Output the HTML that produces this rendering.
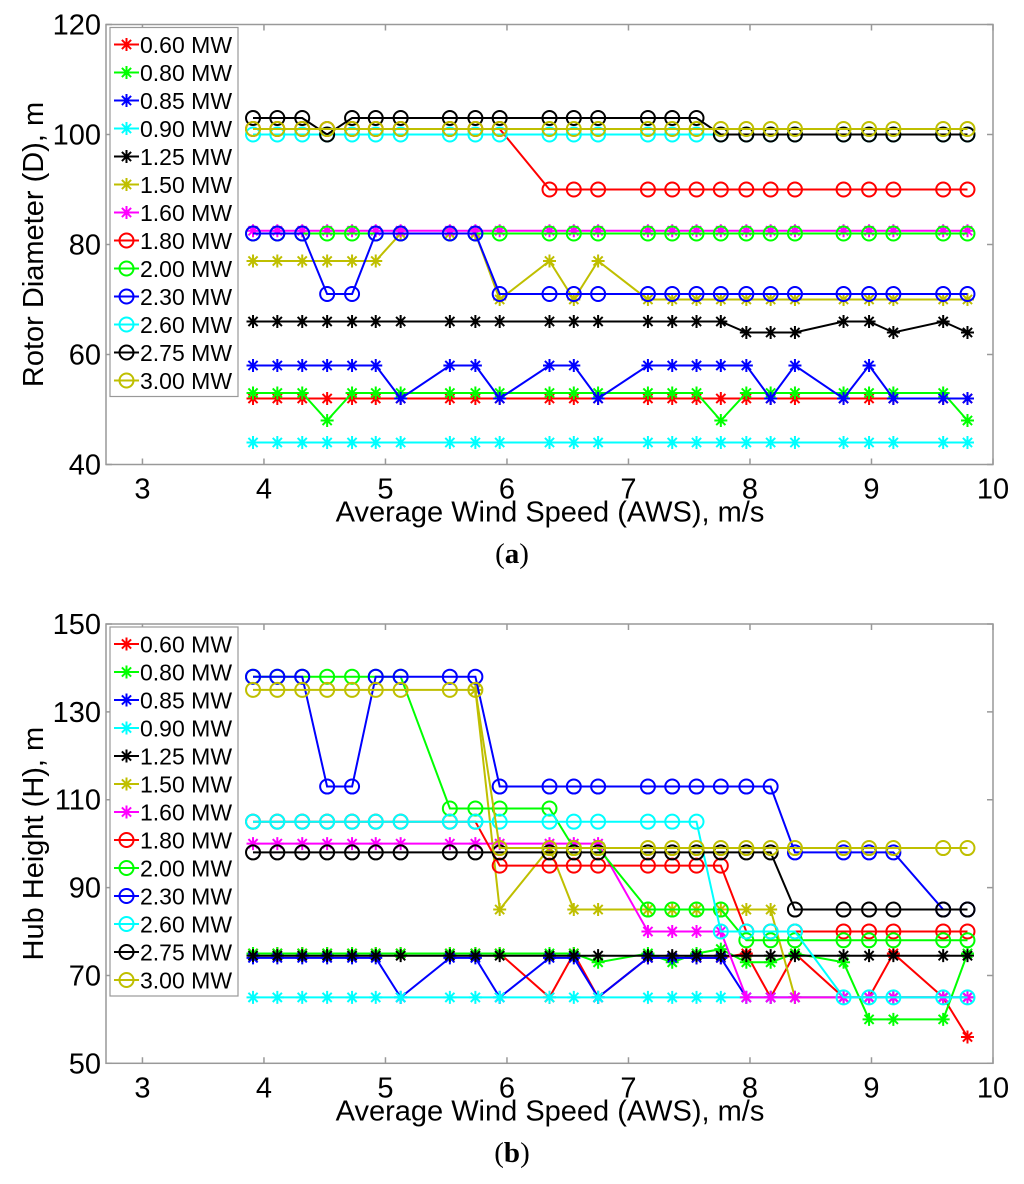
<!DOCTYPE html>
<html><head><meta charset="utf-8"><style>
html,body{margin:0;padding:0;background:#fff;}
svg{display:block;font-family:"Liberation Sans",sans-serif;}
</style></head><body>
<svg id="fig" width="1024" height="1184" viewBox="0 0 1024 1184" xmlns="http://www.w3.org/2000/svg"></svg>
<script>
const xs = [3.91,4.11,4.315,4.52,4.725,4.92,5.125,5.53,5.74,5.94,6.35,6.55,6.75,7.16,7.36,7.56,7.76,7.97,8.17,8.37,8.77,8.98,9.18,9.59,9.79];
const seriesNames = ["0.60 MW","0.80 MW","0.85 MW","0.90 MW","1.25 MW","1.50 MW","1.60 MW","1.80 MW","2.00 MW","2.30 MW","2.60 MW","2.75 MW","3.00 MW"];
const xTicks = [3,4,5,6,7,8,9,10];
const yTicksA = [40,60,80,100,120];
const yTicksB = [50,70,90,110,130,150];
// chart (a) rotor diameter
const a060 = [52,52,52,52,52,52,52,52,52,52,52,52,52,52,52,52,52,52,52,52,52,52,52,52,52];
const a080 = [53,53,53,48,53,53,53,53,53,53,53,53,53,53,53,53,48,53,53,53,53,53,53,53,48];
const a085 = [58,58,58,58,58,58,52,58,58,52,58,58,52,58,58,58,58,58,52,58,52,58,52,52,52];
const a090 = [44,44,44,44,44,44,44,44,44,44,44,44,44,44,44,44,44,44,44,44,44,44,44,44,44];
const a125 = [66,66,66,66,66,66,66,66,66,66,66,66,66,66,66,66,66,64,64,64,66,66,64,66,64];
const a150 = [77,77,77,77,77,77,82,82,82,70,77,70,77,70,70,70,70,70,70,70,70,70,70,70,70];
const a160 = [82.5,82.5,82.5,82.5,82.5,82.5,82.5,82.5,82.5,82.5,82.5,82.5,82.5,82.5,82.5,82.5,82.5,82.5,82.5,82.5,82.5,82.5,82.5,82.5,82.5];
const a180 = [101,101,101,101,101,101,101,101,101,101,90,90,90,90,90,90,90,90,90,90,90,90,90,90,90];
const a200 = [82,82,82,82,82,82,82,82,82,82,82,82,82,82,82,82,82,82,82,82,82,82,82,82,82];
const a230 = [82,82,82,71,71,82,82,82,82,71,71,71,71,71,71,71,71,71,71,71,71,71,71,71,71];
const a260 = [100,100,100,100,100,100,100,100,100,100,100,100,100,100,100,100,100,100,100,100,100,100,100,100,100];
const a275 = [103,103,103,100,103,103,103,103,103,103,103,103,103,103,103,103,100,100,100,100,100,100,100,100,100];
const a300 = [101,101,101,101,101,101,101,101,101,101,101,101,101,101,101,101,101,101,101,101,101,101,101,101,101];
// chart (b) hub height
const b060 = [75,75,75,75,75,75,75,75,75,75,65,75,65,74,74,74,74,75,65,75,65,65,75,65,56];
const b080 = [75,75,75,75,75,75,75,75,75,75,75,75,73,75,73,75,76,73,73,75,73,60,60,60,75];
const b085 = [74,74,74,74,74,74,65,74,74,65,74,74,65,74,74,74,74,65,65,65,65,65,65,65,65];
const b090 = [65,65,65,65,65,65,65,65,65,65,65,65,65,65,65,65,65,65,65,65,65,65,65,65,65];
const b125 = [74.5,74.5,74.5,74.5,74.5,74.5,74.5,74.5,74.5,74.5,74.5,74.5,74.5,74.5,74.5,74.5,74.5,74.5,74.5,74.5,74.5,74.5,74.5,74.5,74.5];
const b150 = [null,null,null,null,null,null,null,null,135,85,99,85,85,85,85,85,85,85,85,65,65,65,65,65,65];
const b160 = [100,100,100,100,100,100,100,100,100,100,100,100,100,80,80,80,80,65,65,65,65,65,65,65,65];
const b180 = [105,105,105,105,105,105,105,105,105,95,95,95,95,95,95,95,95,80,80,80,80,80,80,80,80];
const b200 = [138,138,138,138,138,138,138,108,108,108,108,99,99,85,85,85,85,78,78,78,78,78,78,78,78];
const b230 = [138,138,138,113,113,138,138,138,138,113,113,113,113,113,113,113,113,113,113,98,98,98,98,85,85];
const b260 = [105,105,105,105,105,105,105,105,105,105,105,105,105,105,105,105,80,80,80,80,65,65,65,65,65];
const b275 = [98,98,98,98,98,98,98,98,98,98,98,98,98,98,98,98,98,98,98,85,85,85,85,85,85];
const b300 = [135,135,135,135,135,135,135,135,135,99,99,99,99,99,99,99,99,99,99,99,99,99,99,99,99];

const seriesA = [a060,a080,a085,a090,a125,a150,a160,a180,a200,a230,a260,a275,a300];
const seriesB = [b060,b080,b085,b090,b125,b150,b160,b180,b200,b230,b260,b275,b300];
const colors = ["#ff0000","#00ff00","#0000ff","#00ffff","#000000","#bfbf00","#ff00ff","#ff0000","#00ff00","#0000ff","#00ffff","#000000","#bfbf00"];
const markers = ["*","*","*","*","*","*","*","o","o","o","o","o","o"];

const NS = "http://www.w3.org/2000/svg";
const svg = document.getElementById("fig");
function mk(tag, attrs, parent){
  const e = document.createElementNS(NS, tag);
  for (const k in attrs) e.setAttribute(k, attrs[k]);
  (parent||svg).appendChild(e);
  return e;
}
function drawMarker(g, type, cx, cy, col){
  if (type === "o"){
    const c = mk("circle", {cx:cx, cy:cy, r:7, fill:"none", stroke:col, "stroke-width":2}, g);
    
    
  } else {
    const s = 6.5, d = 4.6;
    const p = mk("path", {d:`M${cx-s},${cy}H${cx+s}M${cx},${cy-s}V${cy+s}M${cx-d},${cy-d}L${cx+d},${cy+d}M${cx-d},${cy+d}L${cx+d},${cy-d}`, stroke:col, "stroke-width":2, fill:"none"}, g);
    
    
  }
}
function chart(cfg){
  const L=106, R=993, T=cfg.top, B=cfg.bottom;
  const xmin=2.7, xmax=10;
  const sx = v => L + (v-xmin)/(xmax-xmin)*(R-L);
  const sy = v => B - (v-cfg.ymin)/(cfg.ymax-cfg.ymin)*(B-T);
  const g = mk("g", {});
  
  
  const frame = mk("rect", {x:L, y:T, width:R-L, height:B-T, fill:"none", stroke:"#999", "stroke-width":1.5}, g);
  
  
  xTicks.forEach(t => {
    const x = sx(t);
    const tk = mk("path", {d:`M${x},${B}V${B-6}M${x},${T}V${T+6}`, stroke:"#999", "stroke-width":1.5}, g);
    
    
    const lb = mk("text", {x:x, y:B+34, "font-size":29, "text-anchor":"middle", fill:"#000"}, g);
    lb.textContent = t;
    
    
  });
  cfg.yTicks.forEach(t => {
    const y = sy(t);
    const tk = mk("path", {d:`M${L},${y}H${L+6}M${R},${y}H${R-6}`, stroke:"#999", "stroke-width":1.5}, g);
    
    
    const lb = mk("text", {x:L-5, y:y+10, "font-size":29, "text-anchor":"end", fill:"#000"}, g);
    lb.textContent = t;
    
    
  });
  cfg.series.forEach((arr, i) => {
    const sg = mk("g", {}, g);
    
    
    let segs = [], cur = [];
    arr.forEach((v,j) => {
      if (v === null) { if (cur.length) segs.push(cur); cur = []; }
      else cur.push(sx(xs[j]).toFixed(1)+","+sy(v).toFixed(1));
    });
    if (cur.length) segs.push(cur);
    segs.forEach(sgm => {
      const pl = mk("polyline", {points:sgm.join(" "), fill:"none", stroke:colors[i], "stroke-width":2}, sg);
      
      
    });
    arr.forEach((v,j) => { if (v !== null) drawMarker(sg, markers[i], sx(xs[j]), sy(v), colors[i]); });
  });
  const lg = mk("g", {}, g);
  
  
  const lbg = mk("rect", {x:110, y:T+3, width:128, height:369, fill:"#fff", stroke:"#999", "stroke-width":1.2}, lg);
  
  
  seriesNames.forEach((n,i) => {
    const y = T + 20 + i*28;
    const eg = mk("g", {}, lg);
    
    
    mk("line", {x1:114, x2:139, y1:y, y2:y, stroke:colors[i], "stroke-width":2}, eg);
    drawMarker(eg, markers[i], 126.5, y, colors[i]);
    const t = mk("text", {x:140, y:y+8.5, "font-size":23, fill:"#000"}, eg);
    t.textContent = n;
  });
  const xt = mk("text", {x:550, y:B+57, "font-size":29, "text-anchor":"middle", fill:"#000"}, g);
  xt.textContent = "Average Wind Speed (AWS), m/s";
  
  
  const cy = (T+B)/2;
  const yt = mk("text", {x:0, y:0, "font-size":29, "text-anchor":"middle", fill:"#000", transform:`translate(43,${cy}) rotate(-90)`}, g);
  yt.textContent = cfg.ytitle;
  
  
  const cap = mk("text", {x:512, y:cfg.capY, "font-size":29, "text-anchor":"middle", fill:"#000", "font-family":"Liberation Serif, serif"}, g);
  cap.innerHTML = '(<tspan font-weight="bold">' + cfg.cap + '</tspan>)';
  
  
}
chart({name:"chart-rotor-diameter", top:24.5, bottom:464.5, ymin:40, ymax:120, yTicks:yTicksA, series:seriesA, ytitle:"Rotor Diameter (D), m", cap:"a", capY:563});
chart({name:"chart-hub-height", top:624, bottom:1063.3, ymin:50, ymax:150, yTicks:yTicksB, series:seriesB, ytitle:"Hub Height (H), m", cap:"b", capY:1162});
</script>
</body></html>
